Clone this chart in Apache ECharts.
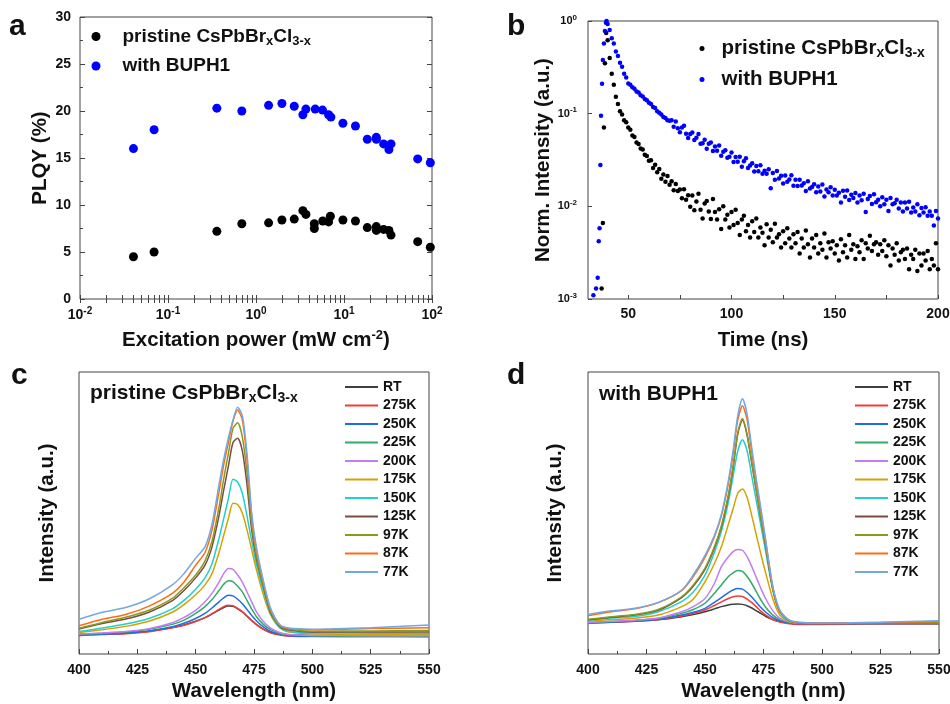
<!DOCTYPE html>
<html>
<head>
<meta charset="utf-8">
<script src="https://cdn.jsdelivr.net/npm/echarts@6/dist/echarts.min.js"></script>
<style>
html,body{margin:0;padding:0;background:#fff;}
#main{width:950px;height:704px;}
</style>
</head>
<body>
<div id="main"></div>
<script>
// ---- panel a : PLQY vs excitation power ----
var powerPristine = [0.0405, 0.0695, 0.359, 0.69, 1.39, 1.97, 2.72, 3.41, 3.69, 4.6, 4.6, 5.74, 6.68, 7.0, 9.72, 13.5, 18.4, 23.3, 23.3, 28.2, 32.4, 34.2, 68.8, 95.7];
var plqyPristine = [4.5, 5.0, 7.2, 8.0, 8.1, 8.4, 8.5, 9.4, 9.0, 8.0, 7.5, 8.3, 8.2, 8.8, 8.4, 8.3, 7.6, 7.7, 7.3, 7.4, 7.3, 6.8, 6.1, 5.5];
var powerBuph = [0.0405, 0.0695, 0.359, 0.69, 1.39, 1.97, 2.72, 3.41, 3.69, 4.71, 5.70, 6.68, 7.1, 9.72, 13.5, 18.4, 23.3, 23.3, 28.2, 32.4, 34.2, 68.8, 95.7];
var plqyBuph = [16.0, 18.0, 20.3, 20.0, 20.6, 20.8, 20.5, 19.6, 20.2, 20.2, 20.1, 19.6, 19.35, 18.7, 18.4, 17.0, 17.2, 17.0, 16.5, 15.9, 16.5, 14.9, 14.5];
var powerTicks = [0.01, 0.1, 1, 10, 100];

// ---- panel b : PL decay ----
var riseTimePristine = [37.1, 37.7, 38.2, 38.7, 39.3];
var risePristine = [0.0013, 0.0066, 0.071, 0.35, 0.74];
var riseTimeBuph = [33.1, 34.4, 35.2, 35.7, 36.1, 36.5, 36.8, 37.3, 37.7, 38.2, 38.7, 39.2, 39.5];
var riseBuph = [0.0011, 0.0013, 0.0017, 0.0042, 0.0058, 0.028, 0.095, 0.21, 0.38, 0.57, 0.78, 0.96, 1.0];
var decayTime = [
  40, 41, 42, 43, 44, 45, 46, 47, 48, 49,
  50, 51, 52, 53, 54, 55, 56, 57, 58, 59,
  60, 61, 62, 63, 64, 65, 66, 67, 68, 69,
  70, 71, 72, 73, 74, 75, 76, 77, 78, 79,
  80, 81, 82, 83, 84, 85, 86, 87, 88, 89,
  90, 91, 92, 93, 94, 95, 96, 97, 98, 99,
  100, 101, 102, 103, 104, 105, 106, 107, 108, 109,
  110, 111, 112, 113, 114, 115, 116, 117, 118, 119,
  120, 121, 122, 123, 124, 125, 126, 127, 128, 129,
  130, 131, 132, 133, 134, 135, 136, 137, 138, 139,
  140, 141, 142, 143, 144, 145, 146, 147, 148, 149,
  150, 151, 152, 153, 154, 155, 156, 157, 158, 159,
  160, 161, 162, 163, 164, 165, 166, 167, 168, 169,
  170, 171, 172, 173, 174, 175, 176, 177, 178, 179,
  180, 181, 182, 183, 184, 185, 186, 187, 188, 189,
  190, 191, 192, 193, 194, 195, 196, 197, 198, 199,
  200
];
var decayPristine = [
  0.62, 0.40, 0.27, 0.205, 0.152, 0.127, 0.106, 0.098, 0.085, 0.081,
  0.071, 0.067, 0.058, 0.056, 0.049, 0.047, 0.042, 0.041, 0.036, 0.035,
  0.031, 0.0315, 0.026, 0.0281, 0.0233, 0.0253, 0.0198, 0.0221, 0.0184, 0.0213,
  0.0171, 0.0186, 0.0149, 0.0174, 0.0146, 0.0152, 0.0122, 0.0153, 0.0118, 0.0132,
  0.0099, 0.0131, 0.0091, 0.0113, 0.0137, 0.0092, 0.0074, 0.0107, 0.0114, 0.0088,
  0.0073, 0.0120, 0.0087, 0.0072, 0.0093, 0.0057, 0.0100, 0.0072, 0.0081, 0.0059,
  0.0087, 0.0063, 0.0092, 0.0066, 0.0049, 0.0072, 0.0079, 0.0054, 0.0063, 0.0046,
  0.0069, 0.0053, 0.0074, 0.0046, 0.0059, 0.0052, 0.0038, 0.0064, 0.0046, 0.0056,
  0.0041, 0.0065, 0.0046, 0.0050, 0.0036, 0.0054, 0.0040, 0.0058, 0.0045, 0.0036,
  0.0050, 0.0040, 0.0053, 0.0031, 0.0045, 0.0036, 0.0055, 0.0039, 0.0028, 0.0045,
  0.0036, 0.0049, 0.0031, 0.0040, 0.0034, 0.0051, 0.0028, 0.0041, 0.0035, 0.0042,
  0.0031, 0.0038, 0.0026, 0.0044, 0.0032, 0.0038, 0.0028, 0.0049, 0.0034, 0.0039,
  0.0027, 0.0037, 0.0032, 0.0043, 0.0027, 0.0040, 0.0035, 0.0048, 0.0033, 0.0039,
  0.0041, 0.0030, 0.0039, 0.0033, 0.0043, 0.0029, 0.0038, 0.0023, 0.0035, 0.0030,
  0.0040, 0.0026, 0.0032, 0.0034, 0.0027, 0.0035, 0.0021, 0.0030, 0.0027, 0.0034,
  0.0020, 0.0031, 0.0023, 0.0031, 0.0026, 0.0033, 0.0021, 0.0027, 0.0023, 0.0040,
  0.0021
];
var decayBuph = [
  0.93, 0.80, 0.65, 0.57, 0.47, 0.42, 0.355, 0.32, 0.27, 0.245,
  0.212, 0.205, 0.193, 0.186, 0.174, 0.169, 0.158, 0.153, 0.144, 0.140,
  0.131, 0.127, 0.118, 0.115, 0.106, 0.102, 0.098, 0.092, 0.090, 0.085,
  0.084, 0.0848, 0.0724, 0.0825, 0.0698, 0.063, 0.0707, 0.0739, 0.0608, 0.0546,
  0.0602, 0.0626, 0.0521, 0.055, 0.0604, 0.0473, 0.048, 0.0524, 0.0418, 0.0474,
  0.0488, 0.0396, 0.0441, 0.0398, 0.0452, 0.0351, 0.0388, 0.0403, 0.0335, 0.0343,
  0.0381, 0.030, 0.0341, 0.0302, 0.0342, 0.0268, 0.0306, 0.0331, 0.026, 0.0276,
  0.0292, 0.0238, 0.0273, 0.0239, 0.0277, 0.0225, 0.0242, 0.0225, 0.0251, 0.0157,
  0.0229, 0.0194, 0.024, 0.020, 0.0214, 0.0176, 0.0215, 0.0184, 0.0195, 0.0216,
  0.0167, 0.0193, 0.0166, 0.0194, 0.0168, 0.0177, 0.0146, 0.0186, 0.0156, 0.0162,
  0.0173, 0.0142, 0.0164, 0.0145, 0.0172, 0.0128, 0.0152, 0.0142, 0.0161, 0.0131,
  0.0151, 0.0131, 0.014, 0.011, 0.0147, 0.0127, 0.0148, 0.0117, 0.0133, 0.0123,
  0.0139, 0.011, 0.0131, 0.0116, 0.0137, 0.0087, 0.012, 0.0129, 0.0106, 0.0135,
  0.0111, 0.0118, 0.010, 0.0125, 0.0105, 0.0118, 0.0089, 0.0123, 0.0105, 0.0108,
  0.0118, 0.0095, 0.011, 0.0088, 0.011, 0.0095, 0.0112, 0.0086, 0.0097, 0.0088,
  0.0105, 0.008, 0.0096, 0.0086, 0.0098, 0.0079, 0.0088, 0.0079, 0.0062, 0.0089,
  0.0074
];
var timeTicks = [50, 100, 150, 200];
var timeTicksAll = [50, 75, 100, 125, 150, 175, 200];
var decayTicks = [0.001, 0.01, 0.1, 1];

// ---- panels c / d : temperature dependent PL ----
var temps = ['RT', '275K', '250K', '225K', '200K', '175K', '150K', '125K', '97K', '87K', '77K'];
var tempColors = ['#3f3f3f', '#f23b3b', '#1f6de6', '#30ab68', '#c47cf0', '#d6a200', '#22cfcf', '#7b4b45', '#8a9a1c', '#ff6a14', '#72a8e6'];
var wavelengths = [400, 410, 420, 430, 440, 445, 450, 454, 457, 460, 462, 464, 466, 468, 470, 472, 474, 476, 479, 482, 486, 490, 500, 525, 550];
var pristinePL = [
  [7.0, 7.2, 7.5, 8.1, 9.4, 10.3, 11.6, 12.9, 14.2, 15.6, 16.5, 17.0, 16.9, 16.0, 14.9, 13.4, 11.9, 10.5, 8.8, 7.7, 7.0, 6.7, 6.6, 6.6, 6.7],
  [6.6, 6.9, 7.2, 7.9, 9.3, 10.2, 11.5, 12.9, 14.3, 15.8, 16.8, 17.3, 17.1, 16.2, 15.0, 13.5, 11.9, 10.4, 8.7, 7.5, 6.7, 6.3, 6.2, 6.2, 6.1],
  [6.8, 7.0, 7.4, 8.2, 9.7, 10.9, 12.6, 14.4, 16.3, 18.5, 19.9, 20.8, 20.6, 19.4, 17.8, 15.8, 13.7, 11.8, 9.6, 8.1, 7.0, 6.5, 6.3, 6.2, 6.2],
  [7.0, 7.3, 7.8, 8.8, 10.5, 12.0, 14.4, 16.8, 19.3, 22.5, 24.7, 26.0, 25.7, 24.0, 22.0, 19.0, 16.0, 13.3, 10.5, 8.7, 7.3, 6.8, 6.5, 6.3, 6.3],
  [7.1, 7.5, 8.0, 9.0, 11.1, 13.0, 15.5, 18.5, 21.5, 25.5, 28.5, 30.3, 30.0, 28.0, 25.5, 22.0, 18.5, 15.0, 11.5, 9.3, 7.6, 6.9, 6.6, 6.5, 6.5],
  [7.6, 8.6, 9.8, 11.6, 14.8, 17.5, 21.0, 24.5, 28.5, 36.0, 42.0, 48.0, 53.5, 53.0, 50.0, 44.0, 37.0, 30.0, 21.0, 14.0, 9.3, 7.8, 7.2, 7.0, 7.0],
  [8.0, 9.2, 10.6, 12.6, 16.0, 19.0, 23.0, 27.0, 32.0, 41.0, 48.0, 55.0, 62.0, 61.0, 57.0, 49.0, 40.0, 32.0, 22.5, 14.5, 9.5, 8.0, 7.5, 7.4, 7.3],
  [8.9, 10.8, 12.4, 14.8, 18.9, 22.5, 27.0, 31.5, 38.0, 49.0, 58.0, 66.5, 75.0, 76.5, 72.0, 60.0, 44.0, 34.0, 24.0, 15.0, 9.8, 8.5, 7.8, 7.8, 7.8],
  [9.1, 11.2, 13.0, 15.5, 19.7, 23.5, 28.0, 33.0, 40.0, 52.0, 62.0, 71.0, 80.0, 82.0, 77.0, 64.0, 46.0, 35.0, 24.5, 15.5, 10.0, 8.8, 8.1, 8.2, 8.3],
  [10.0, 12.3, 14.0, 17.0, 21.5, 25.5, 31.5, 36.0, 44.0, 57.5, 67.0, 75.0, 82.5, 86.5, 83.0, 69.0, 49.0, 37.0, 25.5, 16.0, 10.3, 9.0, 8.6, 9.0, 9.3],
  [12.3, 14.8, 16.5, 19.5, 24.5, 28.5, 34.0, 38.0, 46.0, 60.0, 69.0, 76.5, 83.0, 87.5, 84.5, 71.0, 50.0, 38.0, 26.0, 16.5, 10.5, 9.2, 8.8, 9.3, 10.3]
];
var buphPL = [
  [11.0, 11.3, 11.6, 12.1, 13.2, 14.0, 15.0, 16.0, 16.8, 17.4, 17.6, 17.7, 17.6, 17.1, 16.3, 15.3, 14.3, 13.3, 12.2, 11.5, 11.0, 10.8, 10.8, 10.8, 10.8],
  [11.0, 11.3, 11.6, 12.2, 13.5, 14.4, 15.6, 17.2, 18.5, 19.7, 20.3, 20.6, 20.4, 19.5, 18.2, 16.7, 15.1, 13.8, 12.2, 11.3, 10.7, 10.5, 10.5, 10.6, 10.6],
  [11.0, 11.3, 11.7, 12.3, 13.8, 14.8, 16.2, 18.3, 20.0, 21.8, 22.7, 23.2, 23.0, 21.8, 20.2, 18.3, 16.4, 14.8, 12.9, 11.8, 11.0, 10.8, 10.8, 10.8, 10.8],
  [11.1, 11.5, 11.9, 12.6, 14.4, 15.8, 18.0, 21.5, 24.5, 27.5, 28.8, 29.6, 29.3, 27.5, 25.0, 22.0, 19.0, 16.5, 13.8, 12.2, 11.2, 10.9, 10.8, 10.8, 10.8],
  [11.2, 11.6, 12.0, 12.8, 15.0, 16.8, 19.7, 25.0, 31.0, 34.5, 36.3, 37.1, 36.8, 34.5, 31.0, 27.0, 23.0, 19.5, 15.3, 12.7, 11.4, 11.0, 10.9, 10.9, 10.9],
  [11.6, 12.2, 12.7, 13.8, 16.8, 19.5, 25.6, 32.0, 38.0, 46.0, 51.5, 57.0, 58.5, 55.5, 49.0, 42.0, 35.0, 28.5, 19.5, 13.8, 11.5, 11.0, 10.9, 10.9, 10.9],
  [12.0, 12.8, 13.3, 15.0, 18.6, 22.0, 28.0, 36.0, 43.5, 54.0, 63.0, 72.0, 76.0, 72.0, 63.0, 54.0, 45.0, 36.0, 22.5, 14.8, 11.7, 11.1, 10.9, 10.9, 11.0],
  [12.1, 13.0, 13.8, 15.5, 20.0, 24.0, 30.0, 37.5, 45.0, 56.0, 66.0, 78.0, 83.0, 77.5, 67.5, 57.5, 47.5, 38.0, 23.0, 15.0, 11.8, 11.1, 10.9, 11.0, 11.1],
  [12.3, 13.2, 14.0, 15.8, 20.3, 24.5, 30.5, 38.0, 45.5, 56.5, 66.5, 78.5, 83.5, 78.0, 68.0, 58.0, 48.0, 38.5, 23.0, 15.0, 11.8, 11.1, 10.9, 11.0, 11.2],
  [13.6, 15.0, 16.0, 18.2, 22.5, 27.5, 34.3, 41.5, 49.0, 60.5, 71.0, 83.0, 88.0, 83.0, 71.5, 60.5, 50.0, 39.5, 23.5, 15.3, 11.9, 11.2, 11.0, 11.2, 11.5],
  [14.0, 15.3, 16.2, 18.3, 22.6, 28.0, 35.0, 42.0, 49.5, 61.5, 72.0, 84.5, 90.5, 85.0, 73.0, 61.5, 51.0, 40.0, 24.0, 15.5, 12.0, 11.3, 11.0, 11.3, 11.8]
];

var FONT = '"Liberation Sans", Arial, Helvetica, sans-serif';
var INK = '#111';
var FRAME = '#444';
var BLUE = '#0000ff';

var chart = echarts.init(document.getElementById('main'));

function pairs(xs, ys) {
  return xs.map(function (x, i) { return [x, ys[i]]; });
}

function powLabel(v) {
  return '{b|10}{s|' + Math.round(Math.log10(v)) + '}';
}

// minor log ticks for panel a
var powerTicksAll = [];
[0.01, 0.1, 1, 10].forEach(function (d) {
  for (var k = 1; k < 10; k++) powerTicksAll.push(+(d * k).toPrecision(3));
});
powerTicksAll.push(100);

var legendNames = {
  aPristine: '{n|pristine CsPbBr}{sub|x}{n|Cl}{sub|3-x}',
  aBuph: '{n|with BUPH1}',
  bPristine: '{n|pristine CsPbBr}{sub|x}{n|Cl}{sub|3-x}',
  bBuph: '{n|with BUPH1}'
};

function legendRich(size) {
  return {
    color: INK,
    rich: {
      n: {fontSize: size, fontWeight: 'bold', fontFamily: FONT, color: INK},
      sub: {fontSize: size * 0.68, fontWeight: 'bold', fontFamily: FONT, color: INK, padding: [9, 0, 0, 0]}
    }
  };
}

var tickLabel = {fontSize: 14, fontWeight: 'bold', fontFamily: FONT, color: INK};
var nameStyle = {fontSize: 20.5, fontWeight: 'bold', fontFamily: FONT, color: INK};

var series = [];
series.push({
  name: 'aPristine', type: 'scatter', xAxisIndex: 0, yAxisIndex: 0,
  symbolSize: 9, itemStyle: {color: '#000', opacity: 1}, data: pairs(powerPristine, plqyPristine)
});
series.push({
  name: 'aBuph', type: 'scatter', xAxisIndex: 0, yAxisIndex: 0,
  symbolSize: 9, itemStyle: {color: BLUE, opacity: 1}, data: pairs(powerBuph, plqyBuph)
});
series.push({
  name: 'bPristine', type: 'scatter', xAxisIndex: 2, yAxisIndex: 2,
  symbolSize: 4.5, itemStyle: {color: '#000', opacity: 1},
  data: pairs(riseTimePristine, risePristine).concat(pairs(decayTime, decayPristine))
});
series.push({
  name: 'bBuph', type: 'scatter', xAxisIndex: 2, yAxisIndex: 2,
  symbolSize: 4.5, itemStyle: {color: BLUE, opacity: 1},
  data: pairs(riseTimeBuph, riseBuph).concat(pairs(decayTime, decayBuph))
});
temps.forEach(function (t, i) {
  series.push({
    name: 'c ' + t, type: 'line', xAxisIndex: 3, yAxisIndex: 3,
    showSymbol: false, smooth: 0.25,
    lineStyle: {width: 1.5, color: tempColors[i]}, itemStyle: {color: tempColors[i]},
    data: pairs(wavelengths, pristinePL[i])
  });
});
temps.forEach(function (t, i) {
  series.push({
    name: 'd ' + t, type: 'line', xAxisIndex: 4, yAxisIndex: 4,
    showSymbol: false, smooth: 0.25,
    lineStyle: {width: 1.5, color: tempColors[i]}, itemStyle: {color: tempColors[i]},
    data: pairs(wavelengths, buphPL[i])
  });
});

var tempLegend = {
  orient: 'vertical', icon: 'rect', itemWidth: 33, itemHeight: 2, itemGap: 2.5,
  padding: 0, selectedMode: false,
  formatter: function (name) { return name.slice(2); },
  textStyle: {fontSize: 14, fontWeight: 'bold', fontFamily: FONT, color: INK, lineHeight: 16}
};

var gridBase = {show: true, borderColor: FRAME, borderWidth: 1, containLabel: false, outerBoundsMode: 'none'};

var option = {
  animation: false,
  backgroundColor: '#fff',
  textStyle: {fontFamily: FONT},
  grid: [
    echarts.util.extend({left: 80, top: 17, width: 352, height: 282}, gridBase),
    echarts.util.extend({left: 588, top: 21, width: 350, height: 278}, gridBase),
    echarts.util.extend({left: 79, top: 372, width: 350, height: 282}, gridBase),
    echarts.util.extend({left: 588, top: 372, width: 351, height: 282}, gridBase)
  ],
  xAxis: [
    {
      gridIndex: 0, type: 'log', logBase: 10, min: 0.01, max: 100, position: 'bottom',
      name: '{n|Excitation power (mW cm}{s|-2}{n|)}', nameLocation: 'middle', nameGap: 30,
      nameTextStyle: {rich: {n: nameStyle, s: {fontSize: 13, fontWeight: 'bold', fontFamily: FONT, color: INK, padding: [0, 0, 10, 0]}}},
      axisLine: {show: false},
      axisTick: {inside: true, length: 4, customValues: powerTicksAll, lineStyle: {color: FRAME}},
      axisLabel: {
        margin: 7, customValues: powerTicks, formatter: powLabel,
        rich: {b: tickLabel, s: {fontSize: 10, fontWeight: 'bold', fontFamily: FONT, color: INK, padding: [0, 0, 8, 0]}}
      },
      splitLine: {show: false}
    },
    {
      gridIndex: 0, type: 'log', logBase: 10, min: 0.01, max: 100, position: 'top',
      axisLine: {show: false},
      axisTick: {inside: true, length: 4, customValues: powerTicksAll, lineStyle: {color: FRAME}},
      axisLabel: {show: false}, splitLine: {show: false}
    },
    {
      gridIndex: 1, type: 'value', min: 30.5, max: 200,
      name: 'Time (ns)', nameLocation: 'middle', nameGap: 31, nameTextStyle: nameStyle,
      axisLine: {show: false},
      axisTick: {inside: true, length: 4, customValues: timeTicksAll, lineStyle: {color: FRAME}},
      axisLabel: echarts.util.extend({margin: 8, customValues: timeTicks}, tickLabel),
      splitLine: {show: false}
    },
    {
      gridIndex: 2, type: 'value', min: 400, max: 550, interval: 25,
      name: 'Wavelength (nm)', nameLocation: 'middle', nameGap: 27, nameTextStyle: nameStyle,
      axisLine: {show: false},
      axisTick: {inside: true, length: 5, lineStyle: {color: FRAME}},
      minorTick: {show: true, splitNumber: 2, length: 3, lineStyle: {color: FRAME}},
      axisLabel: echarts.util.extend({margin: 9}, tickLabel),
      splitLine: {show: false}
    },
    {
      gridIndex: 3, type: 'value', min: 400, max: 550, interval: 25,
      name: 'Wavelength (nm)', nameLocation: 'middle', nameGap: 27, nameTextStyle: nameStyle,
      axisLine: {show: false},
      axisTick: {inside: true, length: 5, lineStyle: {color: FRAME}},
      minorTick: {show: true, splitNumber: 2, length: 3, lineStyle: {color: FRAME}},
      axisLabel: echarts.util.extend({margin: 9}, tickLabel),
      splitLine: {show: false}
    }
  ],
  yAxis: [
    {
      gridIndex: 0, type: 'value', min: 0, max: 30, interval: 5, position: 'left',
      name: 'PLQY (%)', nameLocation: 'middle', nameGap: 29, nameTextStyle: nameStyle,
      axisLine: {show: false},
      axisTick: {inside: true, length: 5, lineStyle: {color: FRAME}},
      minorTick: {show: true, splitNumber: 2, length: 3, lineStyle: {color: FRAME}},
      axisLabel: echarts.util.extend({margin: 9}, tickLabel),
      splitLine: {show: false}
    },
    {
      gridIndex: 0, type: 'value', min: 0, max: 30, interval: 5, position: 'right',
      axisLine: {show: false},
      axisTick: {inside: true, length: 5, lineStyle: {color: FRAME}},
      minorTick: {show: true, splitNumber: 2, length: 3, lineStyle: {color: FRAME}},
      axisLabel: {show: false}, splitLine: {show: false}
    },
    {
      gridIndex: 1, type: 'log', logBase: 10, min: 0.001, max: 1,
      name: 'Norm. Intensity (a.u.)', nameLocation: 'middle', nameGap: 34, nameTextStyle: nameStyle,
      axisLine: {show: false},
      axisTick: {inside: true, length: 4, customValues: decayTicks, lineStyle: {color: FRAME}},
      axisLabel: {
        margin: 11, customValues: decayTicks, formatter: powLabel,
        rich: {
          b: {fontSize: 11, fontWeight: 'bold', fontFamily: FONT, color: INK},
          s: {fontSize: 8, fontWeight: 'bold', fontFamily: FONT, color: INK, padding: [0, 0, 7, 0]}
        }
      },
      splitLine: {show: false}
    },
    {
      gridIndex: 2, type: 'value', min: 0, max: 100,
      name: 'Intensity (a.u.)', nameLocation: 'middle', nameGap: 21, nameTextStyle: nameStyle,
      axisLine: {show: false}, axisTick: {show: false}, axisLabel: {show: false}, splitLine: {show: false}
    },
    {
      gridIndex: 3, type: 'value', min: 0, max: 100,
      name: 'Intensity (a.u.)', nameLocation: 'middle', nameGap: 22, nameTextStyle: nameStyle,
      axisLine: {show: false}, axisTick: {show: false}, axisLabel: {show: false}, splitLine: {show: false}
    }
  ],
  legend: [
    {
      data: ['aPristine', 'aBuph'], left: 91.5, top: 27, orient: 'vertical', icon: 'circle',
      itemWidth: 43, itemHeight: 9, itemGap: 9, padding: 0, selectedMode: false,
      formatter: function (n) { return legendNames[n]; }, textStyle: legendRich(19)
    },
    {
      data: ['bPristine', 'bBuph'], left: 699.5, top: 38, orient: 'vertical', icon: 'circle',
      itemWidth: 29, itemHeight: 5, itemGap: 9, padding: 0, selectedMode: false,
      formatter: function (n) { return legendNames[n]; }, textStyle: legendRich(20.5)
    },
    echarts.util.extend({data: temps.map(function (t) { return 'c ' + t; }), left: 345, top: 379}, tempLegend),
    echarts.util.extend({data: temps.map(function (t) { return 'd ' + t; }), left: 855, top: 379}, tempLegend)
  ],
  graphic: [
    {type: 'text', left: 9, top: 12, style: {text: 'a', font: 'bold 30px ' + FONT, fill: INK}},
    {type: 'text', left: 507, top: 12, style: {text: 'b', font: 'bold 30px ' + FONT, fill: INK}},
    {type: 'text', left: 11, top: 361, style: {text: 'c', font: 'bold 30px ' + FONT, fill: INK}},
    {type: 'text', left: 507, top: 361, style: {text: 'd', font: 'bold 30px ' + FONT, fill: INK}},
    {
      type: 'text', left: 90, top: 383,
      style: {
        text: '{n|pristine CsPbBr}{s|x}{n|Cl}{s|3-x}',
        rich: {
          n: {fontSize: 21, fontWeight: 'bold', fontFamily: FONT, fill: INK},
          s: {fontSize: 14, fontWeight: 'bold', fontFamily: FONT, fill: INK, padding: [10, 0, 0, 0]}
        }
      }
    },
    {type: 'text', left: 599, top: 384, style: {text: 'with BUPH1', font: 'bold 21px ' + FONT, fill: INK}}
  ],
  series: series
};

chart.setOption(option);
</script>
</body>
</html>
